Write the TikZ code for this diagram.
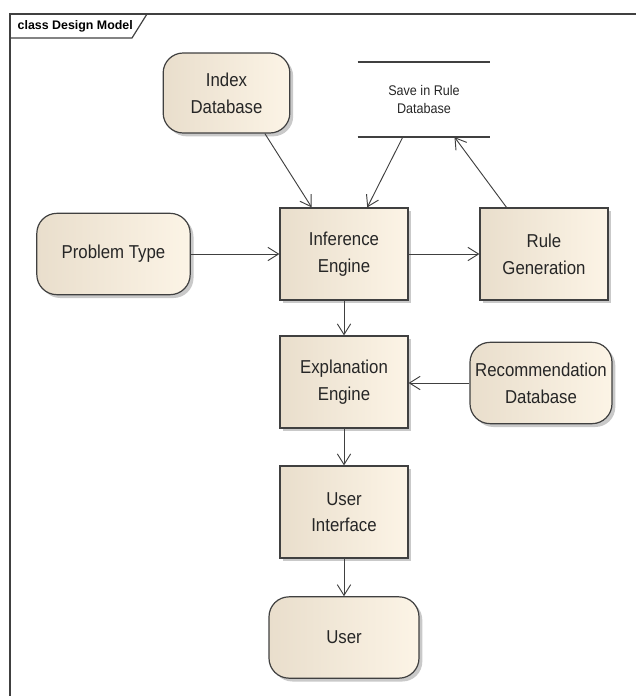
\documentclass[tikz,border=0pt]{standalone}
\usepackage{fontspec}
\newfontfamily\boxfont[FakeStretch=0.9]{Liberation Sans}
\newfontfamily\framefont{Liberation Sans}
\usetikzlibrary{arrows.meta,shadows,calc}
\definecolor{boxleft}{RGB}{233,222,204}
\definecolor{boxright}{RGB}{252,244,230}
\definecolor{edgegray}{RGB}{64,64,64}

\begin{document}
\begin{tikzpicture}[x=0.75pt,y=-0.75pt,
  block/.style={draw=edgegray,line width=0.9pt,left color=boxleft,right color=boxright,
    drop shadow={shadow xshift=2.5pt,shadow yshift=-2.5pt,fill=black!30,opacity=0.7},
    minimum width=96pt,minimum height=69pt,align=center,inner sep=2pt,
    font=\boxfont\fontsize{14}{20}\selectfont,text=black!85},
  state/.style={block,rounded corners=15pt,minimum height=61pt},
  flow/.style={draw=edgegray,line width=0.7pt,-{Straight Barb[length=8pt,width=10pt]}}]

\useasboundingbox (0,0) rectangle (636,696) ;

% frame
\draw[edgegray,line width=1.2pt] (10,696) -- (10,14) -- (636,14) ;
\draw[edgegray,line width=0.9pt] (10,38) -- (132,38) -- (147,14) ;
\node[anchor=west,font=\framefont\bfseries\fontsize{9.3}{11}\selectfont] (title) at (13,26) {class Design Model} ;

\node[state,minimum width=95pt,minimum height=60pt] (index) at (226.5,93) {Index\\Database} ;

\node[minimum width=99pt,minimum height=56pt,align=center,text=black!85,
  font=\boxfont\fontsize{10.5}{13.5}\selectfont] (save) at (424,99.5) {Save in Rule\\Database} ;
\draw[edgegray,line width=1.8pt] (save.north west) -- (save.north east) ;
\draw[edgegray,line width=1.8pt] (save.south west) -- (save.south east) ;

\node[state,minimum width=115pt] (problem) at (113.5,254) {Problem Type} ;
\node[block] (inference) at (344,254) {Inference\\Engine} ;
\node[block] (rulegen) at (544,254) {Rule\\Generation} ;
\node[block] (explain) at (344,382) {Explanation\\Engine} ;
\node[state,minimum width=106.5pt] (recommend) at (541,383) {Recommendation\\Database} ;
\node[block] (ui) at (344,512) {User\\Interface} ;
\node[state,minimum width=112.5pt] (user) at (344,637.5) {User} ;

% connectors
\draw[flow] ($(index.south west)!0.8!(index.south east)$) -- ($(inference.north west)!0.25!(inference.north east)$) ;
\draw[flow] ($(save.south west)!0.34!(save.south east)$) -- ($(inference.north west)!0.68!(inference.north east)$) ;
\draw[flow] ($(rulegen.north west)!0.21!(rulegen.north east)$) -- ($(save.south west)!0.73!(save.south east)$) ;
\draw[flow] (problem) -- (inference) ;
\draw[flow] (inference) -- (rulegen) ;
\draw[flow] (inference) -- (explain) ;
\draw[flow] (recommend.west) -- (explain.east |- recommend.west) ;
\draw[flow] (explain) -- (ui) ;
\draw[flow] (ui) -- (user) ;

\end{tikzpicture}
\end{document}
